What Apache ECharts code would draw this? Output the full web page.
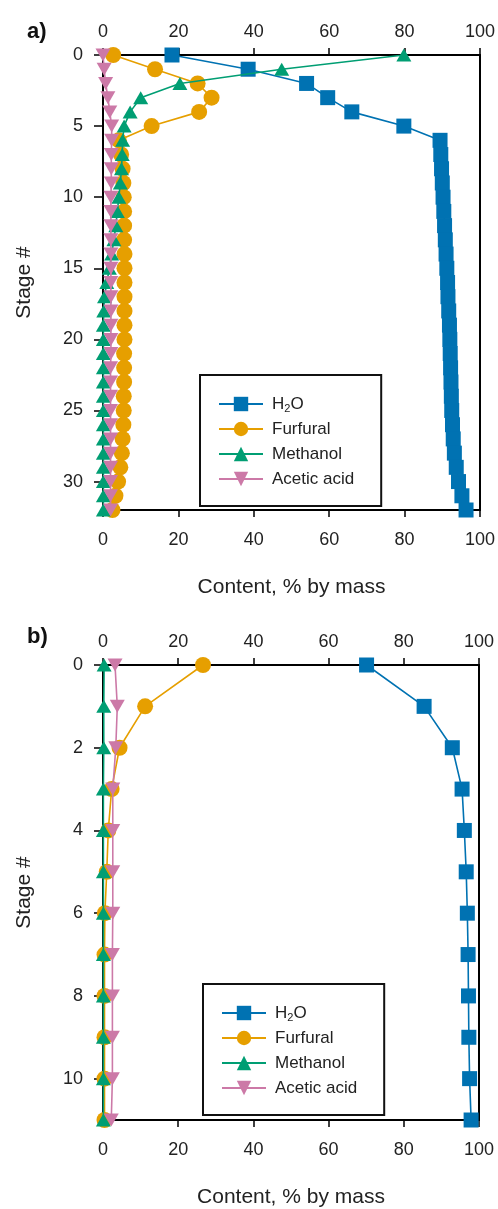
<!DOCTYPE html>
<html>
<head>
<meta charset="utf-8">
<script src="https://cdn.jsdelivr.net/npm/echarts@6/dist/echarts.min.js"></script>
<style>
  html, body { margin: 0; padding: 0; background: #fff; }
  #chart { width: 498px; height: 1209px; }
</style>
</head>
<body>
<div id="chart"></div>
<script>
// panel a) - stage profiles
const stagesA = [0, 1, 2, 3, 4, 5, 6, 7, 8, 9, 10, 11, 12, 13, 14, 15, 16, 17, 18, 19, 20, 21, 22, 23, 24, 25, 26, 27, 28, 29, 30, 31, 32]
const h2oA = [18.3, 38.5, 54.0, 59.6, 66.0, 79.8, 89.4, 89.6, 89.8, 90.0, 90.2, 90.4, 90.6, 90.8, 91.0, 91.2, 91.4, 91.5, 91.7, 91.9, 92.0, 92.1, 92.2, 92.3, 92.4, 92.5, 92.7, 92.9, 93.2, 93.7, 94.3, 95.2, 96.3]
const furfuralA = [2.7, 13.8, 25.1, 28.8, 25.5, 12.9, 4.2, 4.8, 5.2, 5.4, 5.5, 5.6, 5.6, 5.6, 5.7, 5.7, 5.7, 5.7, 5.7, 5.7, 5.7, 5.6, 5.6, 5.6, 5.5, 5.5, 5.4, 5.2, 5.0, 4.6, 4.0, 3.3, 2.5]
const methanolA = [79.8, 47.4, 20.4, 10.0, 7.2, 5.6, 5.2, 5.1, 4.9, 4.6, 4.2, 3.8, 3.4, 2.9, 2.3, 1.7, 1.0, 0.4, 0.2, 0.1, 0.1, 0.1, 0.1, 0.1, 0.1, 0.1, 0.1, 0.1, 0.1, 0.1, 0.1, 0.1, 0.1]
const aceticA = [0.0, 0.3, 0.7, 1.3, 1.8, 2.3, 2.3, 2.2, 2.2, 2.2, 2.1, 2.1, 2.1, 2.1, 2.1, 2.1, 2.1, 2.1, 2.1, 2.1, 2.1, 2.1, 2.0, 2.0, 2.0, 2.0, 2.0, 2.0, 2.0, 2.0, 2.0, 2.0, 2.0]
const stageTicksA = [0, 5, 10, 15, 20, 25, 30]

// panel b)
const stagesB = [0, 1, 2, 3, 4, 5, 6, 7, 8, 9, 10, 11]
const h2oB = [70.1, 85.4, 92.9, 95.5, 96.1, 96.6, 96.9, 97.1, 97.2, 97.3, 97.5, 97.9]
const furfuralB = [26.6, 11.2, 4.4, 2.3, 1.4, 1.0, 0.5, 0.4, 0.4, 0.4, 0.4, 0.4]
const methanolB = [0.3, 0.2, 0.2, 0.1, 0.1, 0.1, 0.1, 0.1, 0.1, 0.1, 0.1, 0.1]
const aceticB = [3.2, 3.8, 3.4, 2.6, 2.6, 2.6, 2.6, 2.5, 2.5, 2.5, 2.5, 2.2]
const stageTicksB = [0, 2, 4, 6, 8, 10]

const names = ['H2O', 'Furfural', 'Methanol', 'Acetic acid']
const colors = ['#0072b2', '#e69f00', '#009e73', '#cc79a7']
const symbols = ['rect', 'circle', 'triangle', 'path://M0,0 L10,0 L5,9 Z']
const sizes = [15, 16, [15, 13], [15, 13]]

const font = 'Liberation Sans, Arial, sans-serif'
const ink = '#222'

function toPoints(values, stages) {
  return values.map((v, i) => [v, stages[i]])
}

function makeSeries(grid, list, stages) {
  return list.map((values, k) => ({
    name: names[k],
    type: 'line',
    xAxisIndex: grid * 2 + 1,
    yAxisIndex: grid * 2,
    data: toPoints(values, stages),
    symbol: symbols[k],
    symbolSize: sizes[k],
    color: colors[k],
    lineStyle: { width: 1.6, color: colors[k] },
    itemStyle: { color: colors[k] },
    z: 2 + k
  }))
}

function xAxes(grid) {
  const base = {
    gridIndex: grid,
    type: 'value',
    min: 0,
    max: 100,
    interval: 20,
    splitLine: { show: false },
    axisLine: { show: true, onZero: false, lineStyle: { color: '#000', width: 2 } },
    axisTick: { show: true, inside: false, length: 7, lineStyle: { color: '#000', width: 1.5 } }
  }
  return [
    Object.assign({}, base, {
      position: 'top',
      axisLabel: { fontSize: 18, fontFamily: font, color: ink, margin: 14 }
    }),
    Object.assign({}, base, {
      position: 'bottom',
      name: 'Content, % by mass',
      nameLocation: 'middle',
      nameGap: 67,
      nameTextStyle: { fontSize: 21, fontFamily: font, color: ink },
      axisLabel: { fontSize: 18, fontFamily: font, color: ink, margin: 21 }
    })
  ]
}

function yAxes(grid, max, ticks) {
  return [
    {
      gridIndex: grid,
      type: 'value',
      inverse: true,
      min: 0,
      max: max,
      position: 'left',
      name: 'Stage #',
      nameLocation: 'middle',
      nameGap: 68,
      nameTextStyle: { fontSize: 21, fontFamily: font, color: ink },
      splitLine: { show: false },
      axisLine: { show: true, onZero: false, lineStyle: { color: '#000', width: 2 } },
      axisTick: { show: true, inside: false, length: 9, customValues: ticks, lineStyle: { color: '#000', width: 1.5 } },
      axisLabel: { fontSize: 18, fontFamily: font, color: ink, margin: 20, customValues: ticks }
    },
    {
      gridIndex: grid,
      type: 'value',
      inverse: true,
      min: 0,
      max: max,
      position: 'right',
      splitLine: { show: false },
      axisLine: { show: true, onZero: false, lineStyle: { color: '#000', width: 2 } },
      axisTick: { show: false },
      axisLabel: { show: false }
    }
  ]
}

function legendAt(left, top) {
  return {
    orient: 'vertical',
    left: left,
    top: top,
    data: names,
    itemWidth: 44,
    itemHeight: 18,
    itemGap: 5,
    padding: [19, 27, 17, 18],
    borderColor: '#111',
    borderWidth: 2,
    backgroundColor: '#fff',
    formatter: name => (name === 'H2O' ? '{t|H}{s|2}{t|O}' : name),
    textStyle: {
      fontSize: 17,
      fontFamily: font,
      color: ink,
      lineHeight: 20,
      padding: [0, 0, 0, 4],
      rich: {
        t: { fontSize: 17, fontFamily: font, color: ink, lineHeight: 20 },
        s: { fontSize: 11, fontFamily: font, color: ink, lineHeight: 12, verticalAlign: 'bottom' }
      }
    }
  }
}

const chart = echarts.init(document.getElementById('chart'))
const option = {
  animation: false,
  backgroundColor: '#fff',
  title: [
    { text: 'a)', left: 22, top: 16, textStyle: { fontSize: 22, fontWeight: 'bold', fontFamily: font, color: '#111' } },
    { text: 'b)', left: 22, top: 621, textStyle: { fontSize: 22, fontWeight: 'bold', fontFamily: font, color: '#111' } }
  ],
  grid: [
    { left: 103, top: 55, width: 377, height: 455, outerBoundsMode: 'none' },
    { left: 103, top: 665, width: 376, height: 455, outerBoundsMode: 'none' }
  ],
  legend: [legendAt(200, 375), legendAt(203, 984)],
  xAxis: xAxes(0).concat(xAxes(1)),
  yAxis: yAxes(0, 32, stageTicksA).concat(yAxes(1, 11, stageTicksB)),
  series: makeSeries(0, [h2oA, furfuralA, methanolA, aceticA], stagesA)
    .concat(makeSeries(1, [h2oB, furfuralB, methanolB, aceticB], stagesB))
}
option && chart.setOption(option)
</script>
</body>
</html>
